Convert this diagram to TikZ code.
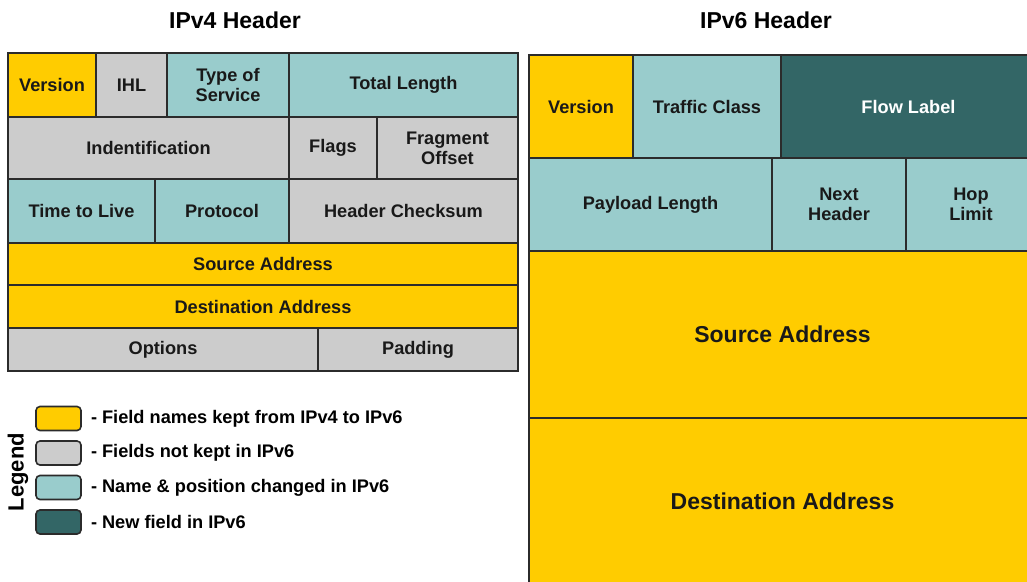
\documentclass[tikz,border=0pt]{standalone}
\usepackage{fontspec}
\setmainfont{Liberation Sans}
\usetikzlibrary{positioning}
\definecolor{keptcol}{HTML}{FFCC00}
\definecolor{dropcol}{HTML}{CCCCCC}
\definecolor{movedcol}{HTML}{99CCCC}
\definecolor{newcol}{HTML}{336666}
\definecolor{edgecol}{HTML}{2B2B2B}
\begin{document}
\begin{tikzpicture}[x=1pt, y=-1pt,
	fieldbox/.style={rectangle, draw=edgecol, line width=1.4pt, inner sep=0pt,
		text=black!90, font=\bfseries\fontsize{18.2}{20}\selectfont,
		align=center, text centered},
	bigfield/.style={font=\bfseries\fontsize{23}{23}\selectfont},
	keybox/.style={rectangle, rounded corners=4pt, draw=edgecol, line width=1.6pt,
		minimum width=45pt, minimum height=24pt, inner sep=0pt},
	keytext/.style={anchor=west, inner sep=0pt, font=\bfseries\fontsize{18.2}{18}\selectfont},
	title/.style={font=\bfseries\fontsize{23}{23}\selectfont}]
	\useasboundingbox (0,0) rectangle (1027,581);

	\node(t4) [title] at (235,20) {IPv4 Header};
	\node(t6) [title] at (766,20) {IPv6 Header};

	% IPv4 fields: name/left/top/right/bottom/colour/text
	\foreach \nm/\xa/\ya/\xb/\yb/\col/\txt in {
		vA/8/53/96/117/keptcol/Version,
		vB/96/53/167/117/dropcol/IHL,
		vC/167/53/289/117/movedcol/{Type of\\Service},
		vD/289/53/518/117/movedcol/Total Length,
		vE/8/117/289/179/dropcol/Indentification,
		vF/289/117/377/179/dropcol/Flags,
		vG/377/117/518/179/dropcol/{Fragment\\Offset},
		vH/8/179/155/243/movedcol/Time to Live,
		vI/155/179/289/243/movedcol/Protocol,
		vJ/289/179/518/243/dropcol/Header Checksum,
		vK/8/243/518/285/keptcol/Source Address,
		vL/8/285/518/328/keptcol/Destination Address,
		vM/8/328/318/371/dropcol/Options,
		vN/318/328/518/371/dropcol/Padding} {
		\node(\nm) [fieldbox, fill=\col, minimum width={\xb-\xa}, minimum height={\yb-\ya}]
			at ({(\xa+\xb)/2},{(\ya+\yb)/2}) {\txt};
	};

	% IPv6 fields
	\foreach \nm/\xa/\ya/\xb/\yb/\col/\txt in {
		wA/529/55/633/158/keptcol/Version,
		wB/633/55/781/158/movedcol/Traffic Class,
		wD/772/158/906/251/movedcol/{Next\\Header},
		wE/906/158/1036/251/movedcol/{Hop\\Limit},
		wC/529/158/772/251/movedcol/Payload Length} {
		\node(\nm) [fieldbox, fill=\col, minimum width={\xb-\xa}, minimum height={\yb-\ya}]
			at ({(\xa+\xb)/2},{(\ya+\yb)/2}) {\txt};
	};
	\node(wF) [fieldbox, fill=newcol, text=white, minimum width=255, minimum height=103]
		at (908.5,106.5) {Flow Label};
	\node(wG) [fieldbox, bigfield, fill=keptcol, minimum width=507, minimum height=167]
		at (782.5,334.5) {Source Address};
	\node(wH) [fieldbox, bigfield, fill=keptcol, minimum width=507, minimum height=166]
		at (782.5,501) {Destination Address};

	% legend
	\node(lg) [title, rotate=90, font=\bfseries\fontsize{22}{22}\selectfont] at (18,472) {Legend};
	\foreach \col/\txt [count=\k] in {keptcol/Field names kept from IPv4 to IPv6,
		dropcol/Fields not kept in IPv6,
		movedcol/Name \& position changed in IPv6,
		newcol/New field in IPv6} {
		\node(key\k) [keybox, fill=\col] at (58.5,{384+34.5*\k}) {};
		\node(keytxt\k) [keytext, right=9pt of key\k] {- \txt};
	};
\end{tikzpicture}
\end{document}
